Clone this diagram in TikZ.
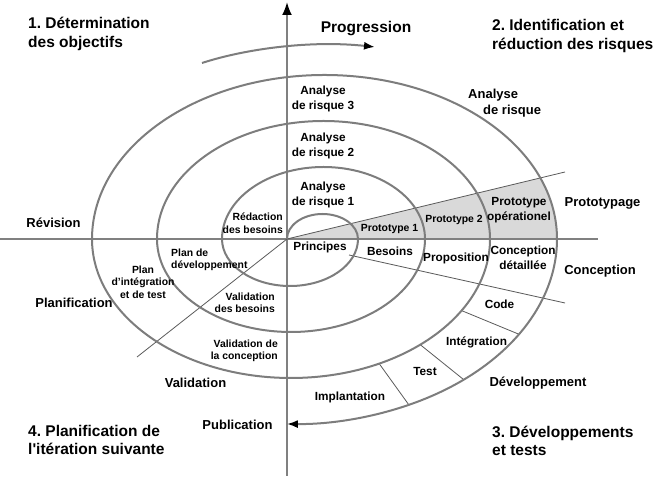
\documentclass[tikz,border=0pt]{standalone}
\usepackage{fontspec}
\setmainfont{Liberation Sans}[Ligatures=TeXOff]
\usetikzlibrary{arrows.meta}
\definecolor{axisgray}{RGB}{128,128,128}
\definecolor{arcgray}{RGB}{125,125,125}
\definecolor{linegray}{RGB}{90,90,90}
\definecolor{wedgegray}{RGB}{217,217,217}
\frenchspacing
\tikzset{
  lblbig/.style={font=\fontsize{15.5}{18.5}\selectfont\bfseries, inner sep=0pt},
  lblmid/.style={font=\fontsize{13}{16}\selectfont\bfseries, inner sep=0pt},
  lblin/.style={font=\fontsize{11.8}{14.5}\selectfont\bfseries, inner sep=0pt},
  lblsm/.style={font=\fontsize{10.4}{12.5}\selectfont\bfseries, inner sep=0pt},
  axisline/.style={draw=axisgray, line width=2pt},
  spiralline/.style={draw=arcgray, line width=2pt},
  fineline/.style={draw=linegray, line width=0.8pt},
}
\begin{document}
\begin{tikzpicture}[x=1pt,y=1pt]
\useasboundingbox (0,0) rectangle (658,478);
% grey wedge (prototypes)
\begin{scope}
  \clip (324.5,239) ellipse [x radius=232.5pt, y radius=164pt];
  \fill[wedgegray] (287,239) -- (620,319.3) -- (620,239) -- cycle;
\end{scope}
% axes
\draw[axisline] (0,239) -- (598,239);
\draw[axisline, -{Latex[color=black,length=13pt,width=10pt]}] (287,2) -- (287,476);
% thin lines
\draw[fineline] (287,239) -- (565,306);
\draw[fineline] (349,223) -- (565,175);
\draw[fineline] (287,239) -- (137,121);
\path (291,239) ++(-31:199pt and 139pt) coordinate (d1a);
\path (291,239) ++(-31:266pt and 185pt) coordinate (d1b);
\path (291,239) ++(-49.5:199pt and 139pt) coordinate (d2a);
\path (291,239) ++(-49.5:266pt and 185pt) coordinate (d2b);
\path (291,239) ++(-63.7:199pt and 139pt) coordinate (d3a);
\path (291,239) ++(-63.7:266pt and 185pt) coordinate (d3b);
\draw[fineline] (d1a) -- (d1b);
\draw[fineline] (d2a) -- (d2b);
\draw[fineline] (d3a) -- (d3b);
% spiral
\draw[spiralline, -{Latex[color=black,length=11pt,width=8pt]}] (287,239)
  arc[start angle=180,end angle=0,x radius=35.5pt,y radius=25pt]
  arc[start angle=0,end angle=-180,x radius=68pt,y radius=47pt]
  arc[start angle=180,end angle=0,x radius=101.5pt,y radius=72pt]
  arc[start angle=0,end angle=-180,x radius=134pt,y radius=93pt]
  arc[start angle=180,end angle=0,x radius=166.5pt,y radius=118pt]
  arc[start angle=0,end angle=-180,x radius=199pt,y radius=139pt]
  arc[start angle=180,end angle=0,x radius=232.5pt,y radius=164pt]
  arc[start angle=0,end angle=-90.9,x radius=266pt,y radius=185pt];
% progression arrow
\draw[spiralline, -{Latex[color=black,length=11pt,width=8pt]}] (202,415) .. controls (245,429) and (310,438) .. (375,431);
% headings
\node[lblbig, anchor=west, align=left] (h1) at (28,444) {1. Détermination\\des objectifs};
\node[lblbig] (prog) at (366,449) {Progression};
\node[lblbig, anchor=west, align=left] (h2) at (492,442) {2. Identification et\\réduction des risques};
\node[lblbig, anchor=west, align=left] (h3) at (492,37) {3. Développements\\et tests};
\node[lblbig, anchor=west, align=left] (h4) at (28,38) {4. Planification de\\l'itération suivante};
% outer labels
\node[lblmid, anchor=west, align=left] (arout) at (468,375) {Analyse\\\hspace*{15pt}de risque};
\node[lblmid] (rev) at (53.5,255) {Révision};
\node[lblmid] (ptg) at (602.5,275) {Prototypage};
\node[lblmid] (conc) at (600,207) {Conception};
\node[lblmid] (dev) at (538,95) {Développement};
\node[lblmid] (pub) at (237.5,53) {Publication};
\node[lblmid] (val) at (195.5,95) {Validation};
\node[lblmid] (planif) at (74,175) {Planification};
% inner labels
\node[lblin, align=center] (ar3) at (323,379) {Analyse\\de risque 3};
\node[lblin, align=center] (ar2) at (323,332) {Analyse\\de risque 2};
\node[lblin, align=center] (ar1) at (323,283) {Analyse\\de risque 1};
\node[lblin, align=center] (pop) at (519,268) {Prototype\\opérationel};
\node[lblin] (prin) at (320,231) {Principes};
\node[lblin] (bes) at (390,227) {Besoins};
\node[lblin] (prop) at (456,220) {Proposition};
\node[lblin, align=center] (cdet) at (523,220) {Conception\\détaillée};
\node[lblin] (code) at (499.5,174) {Code};
\node[lblin] (integ) at (476.5,136) {Intégration};
\node[lblin] (test) at (425,106) {Test};
\node[lblin] (impl) at (350,81) {Implantation};
% small labels
\node[lblsm, anchor=east, align=right] (red) at (283,255) {Rédaction\\des besoins};
\node[lblsm] (p1) at (389.5,249) {Prototype 1};
\node[lblsm] (p2) at (454,258) {Prototype 2};
\node[lblsm, anchor=east, align=right] (valc) at (278,127) {Validation de\\la conception};
\node[lblsm, anchor=east, align=right] (valb) at (275,175) {Validation\\des besoins};
\node[lblsm, anchor=west, align=left] (plandev) at (171,218) {Plan de\\développement};
\node[lblsm, align=center] (planit) at (143,196) {Plan\\d’intégration\\et de test};
\end{tikzpicture}
\end{document}
